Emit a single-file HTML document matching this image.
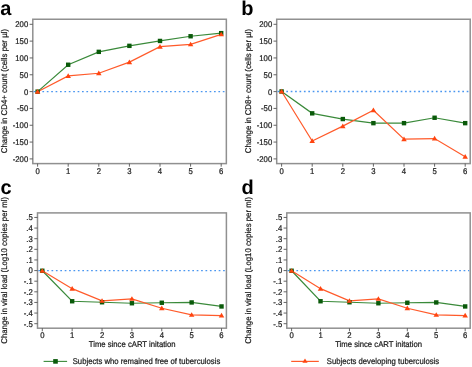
<!DOCTYPE html>
<html><head><meta charset="utf-8"><style>
html,body{margin:0;padding:0;background:#fff;}
body{width:472px;height:367px;overflow:hidden;}
svg{display:block;will-change:transform;}
text{font-family:"Liberation Sans",sans-serif;font-size:8.3px;fill:#1a1a1a;stroke:#1a1a1a;stroke-width:0.22px;text-rendering:geometricPrecision;}
text.L{font-size:20px;font-weight:bold;fill:#000;stroke:none;}
</style></head><body>
<svg width="472" height="367" viewBox="0 0 472 367">
<rect width="472" height="367" fill="#fff"/>
<rect x="32.8" y="19.25" width="193.55" height="144.35" fill="none" stroke="#909090" stroke-width="1.5"/>
<line x1="29.60" y1="24.30" x2="32.8" y2="24.30" stroke="#555" stroke-width="0.9"/>
<text transform="translate(28.20,27.20) scale(0.93,1)" text-anchor="end">200</text>
<line x1="29.60" y1="41.12" x2="32.8" y2="41.12" stroke="#555" stroke-width="0.9"/>
<text transform="translate(28.20,44.02) scale(0.93,1)" text-anchor="end">150</text>
<line x1="29.60" y1="57.95" x2="32.8" y2="57.95" stroke="#555" stroke-width="0.9"/>
<text transform="translate(28.20,60.85) scale(0.93,1)" text-anchor="end">100</text>
<line x1="29.60" y1="74.77" x2="32.8" y2="74.77" stroke="#555" stroke-width="0.9"/>
<text transform="translate(28.20,77.67) scale(0.93,1)" text-anchor="end">50</text>
<line x1="29.60" y1="91.60" x2="32.8" y2="91.60" stroke="#555" stroke-width="0.9"/>
<text transform="translate(28.20,94.50) scale(0.93,1)" text-anchor="end">0</text>
<line x1="29.60" y1="108.42" x2="32.8" y2="108.42" stroke="#555" stroke-width="0.9"/>
<text transform="translate(28.20,111.33) scale(0.93,1)" text-anchor="end">-50</text>
<line x1="29.60" y1="125.25" x2="32.8" y2="125.25" stroke="#555" stroke-width="0.9"/>
<text transform="translate(28.20,128.15) scale(0.93,1)" text-anchor="end">-100</text>
<line x1="29.60" y1="142.07" x2="32.8" y2="142.07" stroke="#555" stroke-width="0.9"/>
<text transform="translate(28.20,144.97) scale(0.93,1)" text-anchor="end">-150</text>
<line x1="29.60" y1="158.90" x2="32.8" y2="158.90" stroke="#555" stroke-width="0.9"/>
<text transform="translate(28.20,161.80) scale(0.93,1)" text-anchor="end">-200</text>
<line x1="37.60" y1="163.6" x2="37.60" y2="166.7" stroke="#555" stroke-width="0.9"/>
<text transform="translate(37.60,173.80) scale(0.93,1)" text-anchor="middle">0</text>
<line x1="68.20" y1="163.6" x2="68.20" y2="166.7" stroke="#555" stroke-width="0.9"/>
<text transform="translate(68.20,173.80) scale(0.93,1)" text-anchor="middle">1</text>
<line x1="98.80" y1="163.6" x2="98.80" y2="166.7" stroke="#555" stroke-width="0.9"/>
<text transform="translate(98.80,173.80) scale(0.93,1)" text-anchor="middle">2</text>
<line x1="129.40" y1="163.6" x2="129.40" y2="166.7" stroke="#555" stroke-width="0.9"/>
<text transform="translate(129.40,173.80) scale(0.93,1)" text-anchor="middle">3</text>
<line x1="160.00" y1="163.6" x2="160.00" y2="166.7" stroke="#555" stroke-width="0.9"/>
<text transform="translate(160.00,173.80) scale(0.93,1)" text-anchor="middle">4</text>
<line x1="190.60" y1="163.6" x2="190.60" y2="166.7" stroke="#555" stroke-width="0.9"/>
<text transform="translate(190.60,173.80) scale(0.93,1)" text-anchor="middle">5</text>
<line x1="221.20" y1="163.6" x2="221.20" y2="166.7" stroke="#555" stroke-width="0.9"/>
<text transform="translate(221.20,173.80) scale(0.93,1)" text-anchor="middle">6</text>
<line x1="33.599999999999994" y1="91.6" x2="225.35" y2="91.6" stroke="#4a96f0" stroke-width="1.3" stroke-dasharray="1.7 2.7"/>
<polyline points="37.60,91.65 68.20,64.75 98.80,51.85 129.40,45.85 160.00,40.95 190.60,36.25 221.20,33.15" fill="none" stroke="#3a8a3a" stroke-width="1.2"/>
<polyline points="37.60,91.75 68.20,75.95 98.80,73.25 129.40,62.15 160.00,46.65 190.60,44.35 221.20,34.35" fill="none" stroke="#ff5a2a" stroke-width="1.2"/>
<rect x="35.40" y="89.45" width="4.4" height="4.4" fill="#0a5a0a"/>
<rect x="66.00" y="62.55" width="4.4" height="4.4" fill="#0a5a0a"/>
<rect x="96.60" y="49.65" width="4.4" height="4.4" fill="#0a5a0a"/>
<rect x="127.20" y="43.65" width="4.4" height="4.4" fill="#0a5a0a"/>
<rect x="157.80" y="38.75" width="4.4" height="4.4" fill="#0a5a0a"/>
<rect x="188.40" y="34.05" width="4.4" height="4.4" fill="#0a5a0a"/>
<rect x="219.00" y="30.95" width="4.4" height="4.4" fill="#0a5a0a"/>
<path d="M37.60 89.05 L40.35 93.75 L34.85 93.75 Z" fill="#ff4510"/>
<path d="M68.20 73.25 L70.95 77.95 L65.45 77.95 Z" fill="#ff4510"/>
<path d="M98.80 70.55 L101.55 75.25 L96.05 75.25 Z" fill="#ff4510"/>
<path d="M129.40 59.45 L132.15 64.15 L126.65 64.15 Z" fill="#ff4510"/>
<path d="M160.00 43.95 L162.75 48.65 L157.25 48.65 Z" fill="#ff4510"/>
<path d="M190.60 41.65 L193.35 46.35 L187.85 46.35 Z" fill="#ff4510"/>
<path d="M221.20 31.65 L223.95 36.35 L218.45 36.35 Z" fill="#ff4510"/>
<text transform="translate(7.30,91.10) rotate(-90) scale(0.942,1)" text-anchor="middle">Change in CD4+ count (cells per µl)</text>
<rect x="276.7" y="19.25" width="193.5" height="144.35" fill="none" stroke="#909090" stroke-width="1.5"/>
<line x1="273.50" y1="24.30" x2="276.7" y2="24.30" stroke="#555" stroke-width="0.9"/>
<text transform="translate(272.20,27.20) scale(0.93,1)" text-anchor="end">200</text>
<line x1="273.50" y1="41.12" x2="276.7" y2="41.12" stroke="#555" stroke-width="0.9"/>
<text transform="translate(272.20,44.02) scale(0.93,1)" text-anchor="end">150</text>
<line x1="273.50" y1="57.95" x2="276.7" y2="57.95" stroke="#555" stroke-width="0.9"/>
<text transform="translate(272.20,60.85) scale(0.93,1)" text-anchor="end">100</text>
<line x1="273.50" y1="74.77" x2="276.7" y2="74.77" stroke="#555" stroke-width="0.9"/>
<text transform="translate(272.20,77.67) scale(0.93,1)" text-anchor="end">50</text>
<line x1="273.50" y1="91.60" x2="276.7" y2="91.60" stroke="#555" stroke-width="0.9"/>
<text transform="translate(272.20,94.50) scale(0.93,1)" text-anchor="end">0</text>
<line x1="273.50" y1="108.42" x2="276.7" y2="108.42" stroke="#555" stroke-width="0.9"/>
<text transform="translate(272.20,111.33) scale(0.93,1)" text-anchor="end">-50</text>
<line x1="273.50" y1="125.25" x2="276.7" y2="125.25" stroke="#555" stroke-width="0.9"/>
<text transform="translate(272.20,128.15) scale(0.93,1)" text-anchor="end">-100</text>
<line x1="273.50" y1="142.07" x2="276.7" y2="142.07" stroke="#555" stroke-width="0.9"/>
<text transform="translate(272.20,144.97) scale(0.93,1)" text-anchor="end">-150</text>
<line x1="273.50" y1="158.90" x2="276.7" y2="158.90" stroke="#555" stroke-width="0.9"/>
<text transform="translate(272.20,161.80) scale(0.93,1)" text-anchor="end">-200</text>
<line x1="281.60" y1="163.6" x2="281.60" y2="166.7" stroke="#555" stroke-width="0.9"/>
<text transform="translate(281.60,173.80) scale(0.93,1)" text-anchor="middle">0</text>
<line x1="312.20" y1="163.6" x2="312.20" y2="166.7" stroke="#555" stroke-width="0.9"/>
<text transform="translate(312.20,173.80) scale(0.93,1)" text-anchor="middle">1</text>
<line x1="342.80" y1="163.6" x2="342.80" y2="166.7" stroke="#555" stroke-width="0.9"/>
<text transform="translate(342.80,173.80) scale(0.93,1)" text-anchor="middle">2</text>
<line x1="373.40" y1="163.6" x2="373.40" y2="166.7" stroke="#555" stroke-width="0.9"/>
<text transform="translate(373.40,173.80) scale(0.93,1)" text-anchor="middle">3</text>
<line x1="404.00" y1="163.6" x2="404.00" y2="166.7" stroke="#555" stroke-width="0.9"/>
<text transform="translate(404.00,173.80) scale(0.93,1)" text-anchor="middle">4</text>
<line x1="434.60" y1="163.6" x2="434.60" y2="166.7" stroke="#555" stroke-width="0.9"/>
<text transform="translate(434.60,173.80) scale(0.93,1)" text-anchor="middle">5</text>
<line x1="465.20" y1="163.6" x2="465.20" y2="166.7" stroke="#555" stroke-width="0.9"/>
<text transform="translate(465.20,173.80) scale(0.93,1)" text-anchor="middle">6</text>
<line x1="277.5" y1="91.5" x2="469.2" y2="91.5" stroke="#4a96f0" stroke-width="1.3" stroke-dasharray="1.7 2.7"/>
<polyline points="281.60,91.45 312.20,113.35 342.80,119.05 373.40,123.15 404.00,123.15 434.60,117.75 465.20,123.15" fill="none" stroke="#3a8a3a" stroke-width="1.2"/>
<polyline points="281.60,91.55 312.20,140.95 342.80,126.15 373.40,110.25 404.00,139.15 434.60,138.55 465.20,156.65" fill="none" stroke="#ff5a2a" stroke-width="1.2"/>
<rect x="279.40" y="89.25" width="4.4" height="4.4" fill="#0a5a0a"/>
<rect x="310.00" y="111.15" width="4.4" height="4.4" fill="#0a5a0a"/>
<rect x="340.60" y="116.85" width="4.4" height="4.4" fill="#0a5a0a"/>
<rect x="371.20" y="120.95" width="4.4" height="4.4" fill="#0a5a0a"/>
<rect x="401.80" y="120.95" width="4.4" height="4.4" fill="#0a5a0a"/>
<rect x="432.40" y="115.55" width="4.4" height="4.4" fill="#0a5a0a"/>
<rect x="463.00" y="120.95" width="4.4" height="4.4" fill="#0a5a0a"/>
<path d="M281.60 88.85 L284.35 93.55 L278.85 93.55 Z" fill="#ff4510"/>
<path d="M312.20 138.25 L314.95 142.95 L309.45 142.95 Z" fill="#ff4510"/>
<path d="M342.80 123.45 L345.55 128.15 L340.05 128.15 Z" fill="#ff4510"/>
<path d="M373.40 107.55 L376.15 112.25 L370.65 112.25 Z" fill="#ff4510"/>
<path d="M404.00 136.45 L406.75 141.15 L401.25 141.15 Z" fill="#ff4510"/>
<path d="M434.60 135.85 L437.35 140.55 L431.85 140.55 Z" fill="#ff4510"/>
<path d="M465.20 153.95 L467.95 158.65 L462.45 158.65 Z" fill="#ff4510"/>
<text transform="translate(251.00,91.05) rotate(-90) scale(0.942,1)" text-anchor="middle">Change in CD8+ count (cells per µl)</text>
<rect x="37.5" y="212.9" width="188.9" height="115.29999999999998" fill="none" stroke="#909090" stroke-width="1.5"/>
<line x1="34.30" y1="217.45" x2="37.5" y2="217.45" stroke="#555" stroke-width="0.9"/>
<text transform="translate(32.80,220.35) scale(0.93,1)" text-anchor="end">.5</text>
<line x1="34.30" y1="228.07" x2="37.5" y2="228.07" stroke="#555" stroke-width="0.9"/>
<text transform="translate(32.80,230.97) scale(0.93,1)" text-anchor="end">.4</text>
<line x1="34.30" y1="238.70" x2="37.5" y2="238.70" stroke="#555" stroke-width="0.9"/>
<text transform="translate(32.80,241.60) scale(0.93,1)" text-anchor="end">.3</text>
<line x1="34.30" y1="249.32" x2="37.5" y2="249.32" stroke="#555" stroke-width="0.9"/>
<text transform="translate(32.80,252.22) scale(0.93,1)" text-anchor="end">.2</text>
<line x1="34.30" y1="259.95" x2="37.5" y2="259.95" stroke="#555" stroke-width="0.9"/>
<text transform="translate(32.80,262.85) scale(0.93,1)" text-anchor="end">.1</text>
<line x1="34.30" y1="270.57" x2="37.5" y2="270.57" stroke="#555" stroke-width="0.9"/>
<text transform="translate(32.80,273.47) scale(0.93,1)" text-anchor="end">0</text>
<line x1="34.30" y1="281.20" x2="37.5" y2="281.20" stroke="#555" stroke-width="0.9"/>
<text transform="translate(32.80,284.10) scale(0.93,1)" text-anchor="end">-.1</text>
<line x1="34.30" y1="291.82" x2="37.5" y2="291.82" stroke="#555" stroke-width="0.9"/>
<text transform="translate(32.80,294.72) scale(0.93,1)" text-anchor="end">-.2</text>
<line x1="34.30" y1="302.45" x2="37.5" y2="302.45" stroke="#555" stroke-width="0.9"/>
<text transform="translate(32.80,305.35) scale(0.93,1)" text-anchor="end">-.3</text>
<line x1="34.30" y1="313.07" x2="37.5" y2="313.07" stroke="#555" stroke-width="0.9"/>
<text transform="translate(32.80,315.97) scale(0.93,1)" text-anchor="end">-.4</text>
<line x1="34.30" y1="323.70" x2="37.5" y2="323.70" stroke="#555" stroke-width="0.9"/>
<text transform="translate(32.80,326.60) scale(0.93,1)" text-anchor="end">-.5</text>
<line x1="42.30" y1="328.2" x2="42.30" y2="331.3" stroke="#555" stroke-width="0.9"/>
<text transform="translate(42.30,338.40) scale(0.93,1)" text-anchor="middle">0</text>
<line x1="72.17" y1="328.2" x2="72.17" y2="331.3" stroke="#555" stroke-width="0.9"/>
<text transform="translate(72.17,338.40) scale(0.93,1)" text-anchor="middle">1</text>
<line x1="102.04" y1="328.2" x2="102.04" y2="331.3" stroke="#555" stroke-width="0.9"/>
<text transform="translate(102.04,338.40) scale(0.93,1)" text-anchor="middle">2</text>
<line x1="131.91" y1="328.2" x2="131.91" y2="331.3" stroke="#555" stroke-width="0.9"/>
<text transform="translate(131.91,338.40) scale(0.93,1)" text-anchor="middle">3</text>
<line x1="161.78" y1="328.2" x2="161.78" y2="331.3" stroke="#555" stroke-width="0.9"/>
<text transform="translate(161.78,338.40) scale(0.93,1)" text-anchor="middle">4</text>
<line x1="191.65" y1="328.2" x2="191.65" y2="331.3" stroke="#555" stroke-width="0.9"/>
<text transform="translate(191.65,338.40) scale(0.93,1)" text-anchor="middle">5</text>
<line x1="221.52" y1="328.2" x2="221.52" y2="331.3" stroke="#555" stroke-width="0.9"/>
<text transform="translate(221.52,338.40) scale(0.93,1)" text-anchor="middle">6</text>
<line x1="38.3" y1="270.7" x2="225.4" y2="270.7" stroke="#4a96f0" stroke-width="1.3" stroke-dasharray="1.7 2.7"/>
<polyline points="42.30,270.75 72.17,301.25 102.04,302.25 131.91,303.25 161.78,302.75 191.65,302.45 221.52,306.45" fill="none" stroke="#3a8a3a" stroke-width="1.2"/>
<polyline points="42.30,270.85 72.17,288.65 102.04,300.85 131.91,298.85 161.78,308.25 191.65,314.85 221.52,315.55" fill="none" stroke="#ff5a2a" stroke-width="1.2"/>
<rect x="40.10" y="268.55" width="4.4" height="4.4" fill="#0a5a0a"/>
<rect x="69.97" y="299.05" width="4.4" height="4.4" fill="#0a5a0a"/>
<rect x="99.84" y="300.05" width="4.4" height="4.4" fill="#0a5a0a"/>
<rect x="129.71" y="301.05" width="4.4" height="4.4" fill="#0a5a0a"/>
<rect x="159.58" y="300.55" width="4.4" height="4.4" fill="#0a5a0a"/>
<rect x="189.45" y="300.25" width="4.4" height="4.4" fill="#0a5a0a"/>
<rect x="219.32" y="304.25" width="4.4" height="4.4" fill="#0a5a0a"/>
<path d="M42.30 268.15 L45.05 272.85 L39.55 272.85 Z" fill="#ff4510"/>
<path d="M72.17 285.95 L74.92 290.65 L69.42 290.65 Z" fill="#ff4510"/>
<path d="M102.04 298.15 L104.79 302.85 L99.29 302.85 Z" fill="#ff4510"/>
<path d="M131.91 296.15 L134.66 300.85 L129.16 300.85 Z" fill="#ff4510"/>
<path d="M161.78 305.55 L164.53 310.25 L159.03 310.25 Z" fill="#ff4510"/>
<path d="M191.65 312.15 L194.40 316.85 L188.90 316.85 Z" fill="#ff4510"/>
<path d="M221.52 312.85 L224.27 317.55 L218.77 317.55 Z" fill="#ff4510"/>
<text transform="translate(7.40,270.30) rotate(-90) scale(0.942,1)" text-anchor="middle">Change in viral load (Log10 copies per ml)</text>
<text transform="translate(132.20,347.30) scale(0.93,1)" text-anchor="middle">Time since cART initation</text>
<rect x="286.8" y="212.9" width="183.39999999999998" height="115.29999999999998" fill="none" stroke="#909090" stroke-width="1.5"/>
<line x1="283.60" y1="217.45" x2="286.8" y2="217.45" stroke="#555" stroke-width="0.9"/>
<text transform="translate(282.30,220.35) scale(0.93,1)" text-anchor="end">.5</text>
<line x1="283.60" y1="228.07" x2="286.8" y2="228.07" stroke="#555" stroke-width="0.9"/>
<text transform="translate(282.30,230.97) scale(0.93,1)" text-anchor="end">.4</text>
<line x1="283.60" y1="238.70" x2="286.8" y2="238.70" stroke="#555" stroke-width="0.9"/>
<text transform="translate(282.30,241.60) scale(0.93,1)" text-anchor="end">.3</text>
<line x1="283.60" y1="249.32" x2="286.8" y2="249.32" stroke="#555" stroke-width="0.9"/>
<text transform="translate(282.30,252.22) scale(0.93,1)" text-anchor="end">.2</text>
<line x1="283.60" y1="259.95" x2="286.8" y2="259.95" stroke="#555" stroke-width="0.9"/>
<text transform="translate(282.30,262.85) scale(0.93,1)" text-anchor="end">.1</text>
<line x1="283.60" y1="270.57" x2="286.8" y2="270.57" stroke="#555" stroke-width="0.9"/>
<text transform="translate(282.30,273.47) scale(0.93,1)" text-anchor="end">0</text>
<line x1="283.60" y1="281.20" x2="286.8" y2="281.20" stroke="#555" stroke-width="0.9"/>
<text transform="translate(282.30,284.10) scale(0.93,1)" text-anchor="end">-.1</text>
<line x1="283.60" y1="291.82" x2="286.8" y2="291.82" stroke="#555" stroke-width="0.9"/>
<text transform="translate(282.30,294.72) scale(0.93,1)" text-anchor="end">-.2</text>
<line x1="283.60" y1="302.45" x2="286.8" y2="302.45" stroke="#555" stroke-width="0.9"/>
<text transform="translate(282.30,305.35) scale(0.93,1)" text-anchor="end">-.3</text>
<line x1="283.60" y1="313.07" x2="286.8" y2="313.07" stroke="#555" stroke-width="0.9"/>
<text transform="translate(282.30,315.97) scale(0.93,1)" text-anchor="end">-.4</text>
<line x1="283.60" y1="323.70" x2="286.8" y2="323.70" stroke="#555" stroke-width="0.9"/>
<text transform="translate(282.30,326.60) scale(0.93,1)" text-anchor="end">-.5</text>
<line x1="291.60" y1="328.2" x2="291.60" y2="331.3" stroke="#555" stroke-width="0.9"/>
<text transform="translate(291.60,338.40) scale(0.93,1)" text-anchor="middle">0</text>
<line x1="320.53" y1="328.2" x2="320.53" y2="331.3" stroke="#555" stroke-width="0.9"/>
<text transform="translate(320.53,338.40) scale(0.93,1)" text-anchor="middle">1</text>
<line x1="349.46" y1="328.2" x2="349.46" y2="331.3" stroke="#555" stroke-width="0.9"/>
<text transform="translate(349.46,338.40) scale(0.93,1)" text-anchor="middle">2</text>
<line x1="378.39" y1="328.2" x2="378.39" y2="331.3" stroke="#555" stroke-width="0.9"/>
<text transform="translate(378.39,338.40) scale(0.93,1)" text-anchor="middle">3</text>
<line x1="407.32" y1="328.2" x2="407.32" y2="331.3" stroke="#555" stroke-width="0.9"/>
<text transform="translate(407.32,338.40) scale(0.93,1)" text-anchor="middle">4</text>
<line x1="436.25" y1="328.2" x2="436.25" y2="331.3" stroke="#555" stroke-width="0.9"/>
<text transform="translate(436.25,338.40) scale(0.93,1)" text-anchor="middle">5</text>
<line x1="465.18" y1="328.2" x2="465.18" y2="331.3" stroke="#555" stroke-width="0.9"/>
<text transform="translate(465.18,338.40) scale(0.93,1)" text-anchor="middle">6</text>
<line x1="287.6" y1="270.7" x2="469.2" y2="270.7" stroke="#4a96f0" stroke-width="1.3" stroke-dasharray="1.7 2.7"/>
<polyline points="291.60,270.75 320.53,301.25 349.46,302.25 378.39,303.25 407.32,302.75 436.25,302.45 465.18,306.45" fill="none" stroke="#3a8a3a" stroke-width="1.2"/>
<polyline points="291.60,270.85 320.53,288.65 349.46,300.85 378.39,298.85 407.32,308.25 436.25,314.85 465.18,315.55" fill="none" stroke="#ff5a2a" stroke-width="1.2"/>
<rect x="289.40" y="268.55" width="4.4" height="4.4" fill="#0a5a0a"/>
<rect x="318.33" y="299.05" width="4.4" height="4.4" fill="#0a5a0a"/>
<rect x="347.26" y="300.05" width="4.4" height="4.4" fill="#0a5a0a"/>
<rect x="376.19" y="301.05" width="4.4" height="4.4" fill="#0a5a0a"/>
<rect x="405.12" y="300.55" width="4.4" height="4.4" fill="#0a5a0a"/>
<rect x="434.05" y="300.25" width="4.4" height="4.4" fill="#0a5a0a"/>
<rect x="462.98" y="304.25" width="4.4" height="4.4" fill="#0a5a0a"/>
<path d="M291.60 268.15 L294.35 272.85 L288.85 272.85 Z" fill="#ff4510"/>
<path d="M320.53 285.95 L323.28 290.65 L317.78 290.65 Z" fill="#ff4510"/>
<path d="M349.46 298.15 L352.21 302.85 L346.71 302.85 Z" fill="#ff4510"/>
<path d="M378.39 296.15 L381.14 300.85 L375.64 300.85 Z" fill="#ff4510"/>
<path d="M407.32 305.55 L410.07 310.25 L404.57 310.25 Z" fill="#ff4510"/>
<path d="M436.25 312.15 L439.00 316.85 L433.50 316.85 Z" fill="#ff4510"/>
<path d="M465.18 312.85 L467.93 317.55 L462.43 317.55 Z" fill="#ff4510"/>
<text transform="translate(251.20,270.40) rotate(-90) scale(0.942,1)" text-anchor="middle">Change in viral load (Log10 copies per ml)</text>
<text transform="translate(378.60,347.30) scale(0.93,1)" text-anchor="middle">Time since cART initation</text>
<line x1="43.6" y1="361.4" x2="67.1" y2="361.4" stroke="#3a8a3a" stroke-width="1.1"/>
<rect x="53.2" y="359.1" width="4.6" height="4.6" fill="#0a5a0a"/>
<text transform="translate(72.70,363.90) scale(0.93,1)" text-anchor="start">Subjects who remained free of tuberculosis</text>
<line x1="291.2" y1="361.4" x2="318.8" y2="361.4" stroke="#ff5a2a" stroke-width="1.2"/>
<path d="M305 358.5 L307.6 362.7 L302.4 362.7 Z" fill="#ff4510"/>
<text transform="translate(326.80,363.90) scale(0.93,1)" text-anchor="start">Subjects developing tuberculosis</text>
<text x="0.3" y="15.2" class="L">a</text>
<text x="241.2" y="15.1" class="L">b</text>
<text x="0.4" y="194.4" class="L">c</text>
<text x="241.5" y="194.2" class="L">d</text>
</svg>
</body></html>
